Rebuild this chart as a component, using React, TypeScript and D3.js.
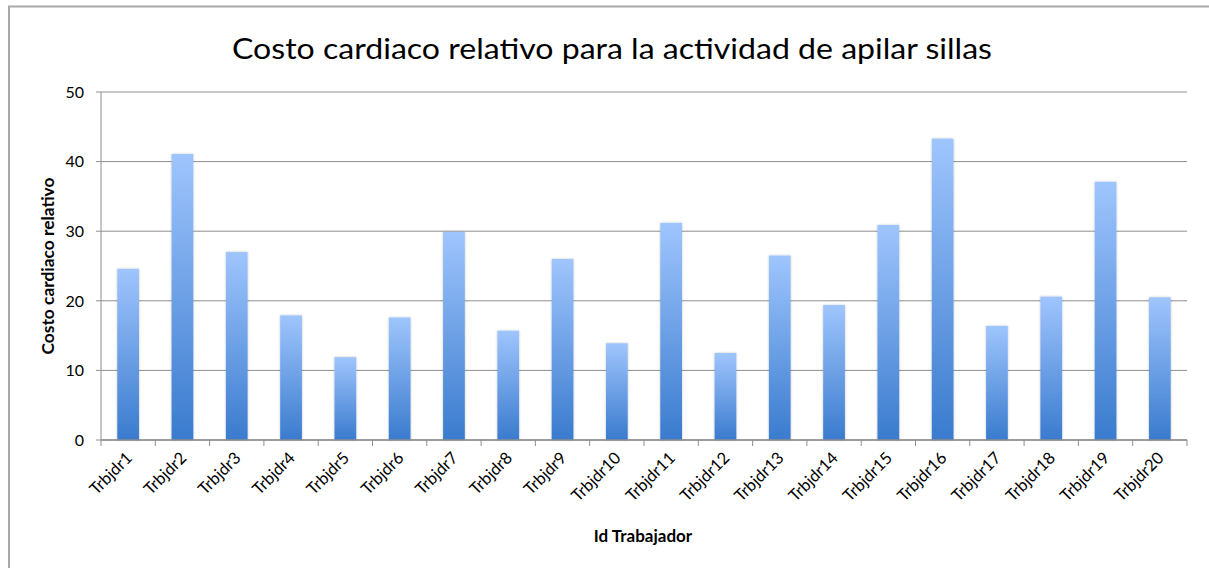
import React from 'react';
import * as d3 from 'd3';

// Relative cardiac cost per worker
const workers = [
  'Trbjdr1', 'Trbjdr2', 'Trbjdr3', 'Trbjdr4', 'Trbjdr5',
  'Trbjdr6', 'Trbjdr7', 'Trbjdr8', 'Trbjdr9', 'Trbjdr10',
  'Trbjdr11', 'Trbjdr12', 'Trbjdr13', 'Trbjdr14', 'Trbjdr15',
  'Trbjdr16', 'Trbjdr17', 'Trbjdr18', 'Trbjdr19', 'Trbjdr20',
];
const costValues = [
  24.6, 41.1, 27.0, 17.9, 11.9,
  17.6, 29.9, 15.7, 26.0, 13.9,
  31.2, 12.5, 26.5, 19.4, 30.9,
  43.3, 16.4, 20.6, 37.1, 20.5,
];
const yTicks = [0, 10, 20, 30, 40, 50];

const title = 'Costo cardiaco relativo para la actividad de apilar sillas';
const yLabel = 'Costo cardiaco relativo';
const xLabel = 'Id Trabajador';

const WIDTH = 1209;
const HEIGHT = 568;
const margin = { top: 92, right: 22, bottom: 128, left: 101 };
const FONT = 'Lato, "Open Sans", sans-serif';
const GRID = '#8e8e8e';

const App: React.FC = () => {
  const x = d3.scaleBand<string>()
    .domain(workers)
    .range([margin.left, WIDTH - margin.right])
    .paddingInner(0.6)
    .paddingOuter(0.3);

  const y = d3.scaleLinear()
    .domain([0, 50])
    .range([HEIGHT - margin.bottom, margin.top]);

  const step = x.step();
  const y0 = y(0);
  // tick marks sit on the category boundaries
  const boundaries = workers.map(w => (x(w) ?? 0) - step * 0.3);
  boundaries.push(WIDTH - margin.right);

  return (
    <svg
      width={WIDTH}
      height={HEIGHT}
      style={{ position: 'absolute', left: 0, top: 0, background: '#fff' }}
    >
      <defs>
        <linearGradient id="barFill" x1="0" y1="0" x2="0" y2="1">
          <stop offset="0%" stopColor="#9fc5fd" />
          <stop offset="100%" stopColor="#3a7bce" />
        </linearGradient>
        <filter id="barShadow" x="-20%" y="-5%" width="140%" height="110%">
          <feDropShadow dx="0" dy="0" stdDeviation="1" floodColor="#000" floodOpacity="0.25" />
        </filter>
      </defs>

      {/* outer frame */}
      <rect x={9} y={6.5} width={1210} height={620} fill="none" stroke="#a8a8a8" strokeWidth={2} />

      {/* title */}
      <text
        x={612}
        y={59}
        textAnchor="middle"
        fontFamily={FONT}
        fontSize={29}
        fill="#000"
        textLength={760}
        lengthAdjust="spacingAndGlyphs"
      >
        {title}
      </text>

      {/* gridlines + y ticks */}
      {yTicks.map(t => (
        <g key={t}>
          <line x1={margin.left - 5} x2={WIDTH - margin.right} y1={y(t)} y2={y(t)} stroke={GRID} strokeWidth={1} />
          <text
            x={84}
            y={y(t)}
            dy="0.36em"
            textAnchor="end"
            fontFamily={FONT}
            fontSize={16}
            fill="#000"
          >
            {t}
          </text>
        </g>
      ))}

      {/* y axis line */}
      <line x1={margin.left} x2={margin.left} y1={margin.top} y2={y0} stroke={GRID} strokeWidth={1} />

      {/* bars */}
      {workers.map((w, i) => (
        <rect
          key={w}
          x={x(w)}
          y={y(costValues[i])}
          width={x.bandwidth()}
          height={y0 - y(costValues[i])}
          fill="url(#barFill)"
          filter="url(#barShadow)"
        />
      ))}

      {/* x axis */}
      <line x1={margin.left} x2={WIDTH - margin.right} y1={y0} y2={y0} stroke={GRID} strokeWidth={1.5} />
      {boundaries.map((b, i) => (
        <line key={i} x1={b} x2={b} y1={y0} y2={y0 + 6} stroke={GRID} strokeWidth={1} />
      ))}

      {/* x tick labels, rotated */}
      {workers.map(w => {
        const cx = (x(w) ?? 0) + x.bandwidth() / 2;
        const cy = y0 + 19;
        return (
          <text
            key={w}
            transform={`translate(${cx + 5},${cy}) rotate(-45)`}
            textAnchor="end"
            fontFamily={FONT}
            fontSize={16.5}
            fill="#000"
          >
            {w}
          </text>
        );
      })}

      {/* axis titles */}
      <text
        transform={`translate(${54},${(margin.top + y0) / 2}) rotate(-90)`}
        textAnchor="middle"
        fontFamily={FONT}
        fontSize={17}
        fontWeight="bold"
        fill="#000"
        textLength={177}
        lengthAdjust="spacingAndGlyphs"
      >
        {yLabel}
      </text>
      <text
        x={643}
        y={542}
        textAnchor="middle"
        fontFamily={FONT}
        fontSize={17}
        fontWeight="bold"
        fill="#000"
      >
        {xLabel}
      </text>
    </svg>
  );
};

export default App;
